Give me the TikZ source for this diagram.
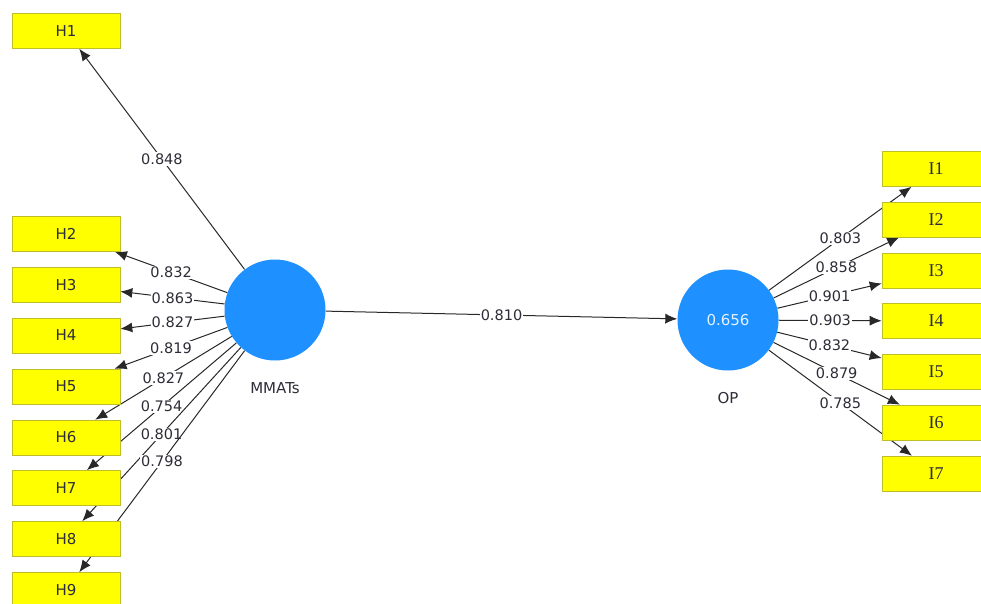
\documentclass[tikz,border=0pt]{standalone}
\usepackage{fontspec}
\setmainfont{DejaVu Sans}
\newfontfamily\serfont{Liberation Serif}
\usetikzlibrary{arrows.meta}
\pgfdeclarelayer{bg}
\pgfsetlayers{bg,main}
\definecolor{boxfill}{RGB}{255,255,0}
\definecolor{boxline}{RGB}{190,190,40}
\definecolor{lvfill}{RGB}{30,144,255}
\definecolor{edgecol}{RGB}{40,40,40}
\definecolor{txtcol}{RGB}{45,45,55}
\tikzset{
  hbox/.style={draw=boxline, fill=boxfill, line width=0.6pt, minimum width=108pt, minimum height=35pt, inner sep=0pt, font=\fontsize{15}{15}\selectfont, text=txtcol},
  ibox/.style={hbox, font=\serfont\fontsize{18}{18}\selectfont},
  lv/.style={circle, fill=lvfill, minimum size=101pt, inner sep=0pt},
  lvname/.style={font=\fontsize{15}{15}\selectfont, text=txtcol},
  link/.style={draw=edgecol, line width=1pt, -{Latex[length=12pt,width=10pt]}},
  wt/.style={fill=white, inner sep=1.2pt, font=\fontsize{14.5}{14.5}\selectfont, text=txtcol}
}
\begin{document}
\begin{tikzpicture}[x=1pt,y=-1pt]
\useasboundingbox (0,0) rectangle (981,604);
\clip (0,0) rectangle (981,604);
% latent variables
\node[lv] (mm) at (275,310) {};
\node[lv, text=white!88!lvfill, font=\fontsize{15}{15}\selectfont] (op) at (728,320) {0.656};
\node[lvname] (mmlab) at (275,388) {MMATs};
\node[lvname] (oplab) at (728,398) {OP};
% indicators
\node[hbox] (h1) at (66,31) {H1};
\node[hbox] (h2) at (66,234) {H2};
\node[hbox] (h3) at (66,285) {H3};
\node[hbox] (h4) at (66,335.5) {H4};
\node[hbox] (h5) at (66,386.5) {H5};
\node[hbox] (h6) at (66,437.5) {H6};
\node[hbox] (h7) at (66,488) {H7};
\node[hbox] (h8) at (66,539) {H8};
\node[hbox] (h9) at (66,590) {H9};
\node[ibox] (i1) at (936,169) {I1};
\node[ibox] (i2) at (936,219.5) {I2};
\node[ibox] (i3) at (936,270.5) {I3};
\node[ibox] (i4) at (936,321) {I4};
\node[ibox] (i5) at (936,371.5) {I5};
\node[ibox] (i6) at (936,422.5) {I6};
\node[ibox] (i7) at (936,473.5) {I7};
\begin{pgfonlayer}{bg}
\draw[link] (mm) -- node[wt] {0.848} (h1);
\draw[link] (mm) -- node[wt] {0.832} (h2);
\draw[link] (mm) -- node[wt] {0.863} (h3);
\draw[link] (mm) -- node[wt] {0.827} (h4);
\draw[link] (mm) -- node[wt] {0.819} (h5);
\draw[link] (mm) -- node[wt] {0.827} (h6);
\draw[link] (mm) -- node[wt] {0.754} (h7);
\draw[link] (mm) -- node[wt] {0.801} (h8);
\draw[link] (mm) -- node[wt] {0.798} (h9);
\draw[link] (mm) -- node[wt] {0.810} (op);
\draw[link] (op) -- node[wt] {0.803} (i1);
\draw[link] (op) -- node[wt] {0.858} (i2);
\draw[link] (op) -- node[wt] {0.901} (i3);
\draw[link] (op) -- node[wt] {0.903} (i4);
\draw[link] (op) -- node[wt] {0.832} (i5);
\draw[link] (op) -- node[wt] {0.879} (i6);
\draw[link] (op) -- node[wt] {0.785} (i7);
\end{pgfonlayer}
\end{tikzpicture}
\end{document}
